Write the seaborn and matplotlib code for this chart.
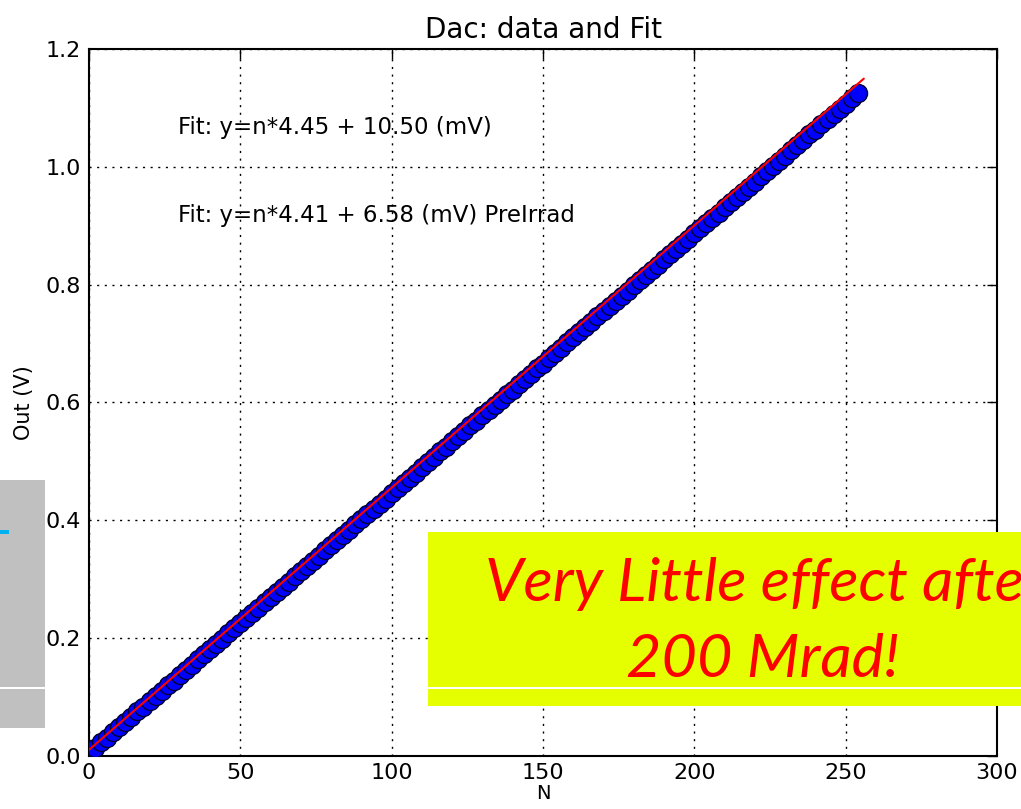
import numpy as np
import pandas as pd
import matplotlib
matplotlib.use("Agg")
import matplotlib.pyplot as plt
import seaborn as sns

# ---- data ----
dac_n = list(range(0, 256, 2))
dac_out = [0.005, 0.014, 0.023, 0.031, 0.040, 0.049, 0.058, 0.067, 0.076, 0.084,
           0.093, 0.102, 0.111, 0.120, 0.128, 0.137, 0.146, 0.155, 0.164, 0.173,
           0.181, 0.190, 0.199, 0.208, 0.217, 0.225, 0.234, 0.243, 0.252, 0.261,
           0.270, 0.278, 0.287, 0.296, 0.305, 0.314, 0.322, 0.331, 0.340, 0.349,
           0.358, 0.367, 0.375, 0.384, 0.393, 0.402, 0.411, 0.420, 0.428, 0.437,
           0.446, 0.455, 0.464, 0.472, 0.481, 0.490, 0.499, 0.508, 0.517, 0.525,
           0.534, 0.543, 0.552, 0.561, 0.569, 0.578, 0.587, 0.596, 0.605, 0.614,
           0.622, 0.631, 0.640, 0.649, 0.658, 0.666, 0.675, 0.684, 0.693, 0.702,
           0.711, 0.719, 0.728, 0.737, 0.746, 0.755, 0.763, 0.772, 0.781, 0.790,
           0.799, 0.808, 0.816, 0.825, 0.834, 0.843, 0.852, 0.860, 0.869, 0.878,
           0.887, 0.896, 0.905, 0.913, 0.922, 0.931, 0.940, 0.949, 0.958, 0.966,
           0.975, 0.984, 0.993, 1.002, 1.010, 1.019, 1.028, 1.037, 1.046, 1.055,
           1.063, 1.072, 1.081, 1.090, 1.099, 1.107, 1.116, 1.125]
fit_slope_mv = 4.45
fit_offset_mv = 10.50
pre_slope_mv = 4.41
pre_offset_mv = 6.58
fit_n = [0, 256]
x_ticks = [0, 50, 100, 150, 200, 250, 300]
y_ticks = [0.0, 0.2, 0.4, 0.6, 0.8, 1.0, 1.2]
title = "Dac: data and Fit"
note_line1 = "Very Little effect afte"
note_line2 = "200 Mrad!"

df = pd.DataFrame({"N": dac_n, "Out": dac_out})
fit_df = pd.DataFrame({"N": fit_n,
                       "Out": [(n * fit_slope_mv + fit_offset_mv) / 1000 for n in fit_n]})

sns.set_style("white")
plt.rcParams["font.family"] = ["DejaVu Sans"]
plt.rcParams["text.color"] = "black"
plt.rcParams["axes.labelcolor"] = "black"

fig = plt.figure(figsize=(10.21, 8.09), dpi=100)
ax = fig.add_axes([89 / 1021, 53 / 809, (997 - 89) / 1021, (756 - 49) / 809])

sns.scatterplot(data=df, x="N", y="Out", ax=ax, s=170, color="#0000ff",
                edgecolor="#000030", linewidth=1.0, zorder=3, legend=False)
sns.lineplot(data=fit_df, x="N", y="Out", ax=ax, color="red", linewidth=1.5,
             zorder=4, legend=False)

ax.set_xlim(0, 300)
ax.set_ylim(0, 1.2)
ax.set_xticks(x_ticks)
ax.set_yticks(y_ticks)
ax.set_xticklabels([str(t) for t in x_ticks])
ax.set_yticklabels([f"{t:.1f}" for t in y_ticks])
ax.tick_params(direction="in", length=7, width=1, top=True, right=True,
               labelsize=16, colors="black", pad=6)
ax.tick_params(axis="x", pad=5)
ax.grid(True, color="black", linestyle=(0, (1.5, 4)), linewidth=1.0)
for s in ax.spines.values():
    s.set_color("black")
    s.set_linewidth(1.5)
    s.set_visible(True)
ax.set_title(title, fontsize=20, pad=8, color="black")
ax.set_xlabel("N", fontsize=14, labelpad=1)
ax.set_ylabel("Out (V)", fontsize=15, labelpad=8)

ax.text(29.5, 1.066, f"Fit: y=n*{fit_slope_mv:.2f} + {fit_offset_mv:.2f} (mV)",
        fontsize=16.5, va="center", ha="left", color="black", zorder=1)
ax.text(29.5, 0.918, f"Fit: y=n*{pre_slope_mv:.2f} + {pre_offset_mv:.2f} (mV) PreIrrad",
        fontsize=16.5, va="center", ha="left", color="black", zorder=1)

# slide overlays
def px_rect(x0, y0, x1, y1, color, z=10):
    r = plt.Rectangle((x0 / 1021, 1 - y1 / 809), (x1 - x0) / 1021, (y1 - y0) / 809,
                      transform=fig.transFigure, facecolor=color, edgecolor="none",
                      zorder=z)
    fig.add_artist(r)

px_rect(0, 480, 45, 728, "#c0c0c0")
px_rect(0, 687, 45, 689, "white", 11)
px_rect(0, 530, 9, 534, "#00b0f0", 11)
px_rect(428, 532, 1021, 706, "#e5ff00")
px_rect(428, 687, 1021, 689, "white", 11)

fig.text(485 / 1021, 1 - 584 / 809, note_line1, color="red", fontsize=44,
         style="italic", family="Lato", ha="left", va="center", zorder=12)
fig.text(763 / 1021, 1 - 660 / 809, note_line2, color="red", fontsize=44,
         style="italic", family="Lato", ha="center", va="center", zorder=12)

fig.savefig("out.png", dpi=100)
